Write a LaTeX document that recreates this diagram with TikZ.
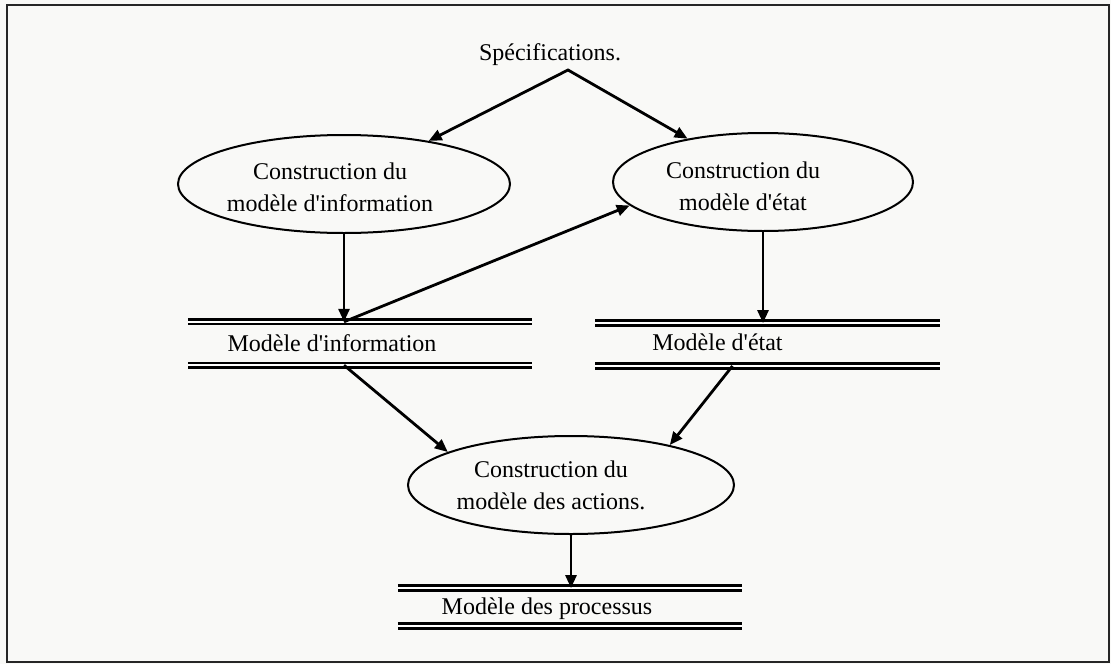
\documentclass[tikz,border=0pt]{standalone}
\usepackage{fontspec}
\setmainfont{Liberation Serif}
\usetikzlibrary{arrows.meta, positioning, shapes.geometric, calc}
\definecolor{papier}{RGB}{249,249,247}

\begin{document}
\begin{tikzpicture}[
    x=1pt, y=-1pt,
    >={Triangle[length=13pt, width=11pt]},
    txt/.style={font=\fontsize{24}{32}\selectfont, align=center},
    proc/.style={ellipse, draw=black, line width=2pt, minimum width=#1, minimum height=98pt, inner sep=0pt},
    store/.style={rectangle, minimum width=344pt, inner sep=0pt},
    bar/.style={double, double distance=2.2pt, line width=2.5pt},
    flow/.style={line width=2.8pt, line join=miter, ->}
]
    \path[use as bounding box, fill=papier] (0,0) rectangle (1111,664);
    \draw[line width=2.2pt, draw=black!85] (7,5) rectangle (1109,662);

    % processus
    \node[txt] (spec) at (550,55) {Spécifications.};
    \coordinate (fork) at (568,70);
    \node[proc=332pt, label={[txt, xshift=-14pt, yshift=-3pt]center:{Construction du\\modèle d\textquotesingle information}}] (info) at (344,184) {};
    \node[proc=300pt, label={[txt, xshift=-20pt, yshift=-4pt]center:{Construction du\\modèle d\textquotesingle état}}] (etat) at (763,182) {};
    \node[proc=326pt, label={[txt, xshift=-20pt]center:{Construction du\\modèle des actions.}}] (act) at (571,485) {};

    % stockages
    \node[store, minimum height=43pt, label={[txt, xshift=-28pt]center:Modèle d\textquotesingle information}] (mi) at (360,343.5) {};
    \node[store, minimum height=42.5pt, label={[txt, xshift=-50pt, yshift=2pt]center:Modèle d\textquotesingle état}] (me) at (767.5,344.5) {};
    \node[store, minimum height=37.5pt, label={[txt, xshift=-23pt, yshift=-2pt]center:Modèle des processus}] (mp) at (570,607) {};
    \foreach \s in {mi, me, mp} {
        \draw[bar] (\s.north west) -- (\s.north east);
        \draw[bar] (\s.south west) -- (\s.south east);
    }

    % flux
    \draw[flow, <->] (info) -- (fork) -- (etat);
    \coordinate (join) at (info.south |- mi.north);
    \draw[flow] (info.south) -- (join);
    \draw[flow] (join) -- (etat.190);
    \draw[flow] (etat.south) -- (etat.south |- me.north);
    \draw[flow] (join |- mi.south) -- (act.165);
    \draw[flow] ($(me.south)+(-35,0)$) -- (act.22);
    \draw[flow] (act.south) -- (act.south |- mp.north);
\end{tikzpicture}
\end{document}
